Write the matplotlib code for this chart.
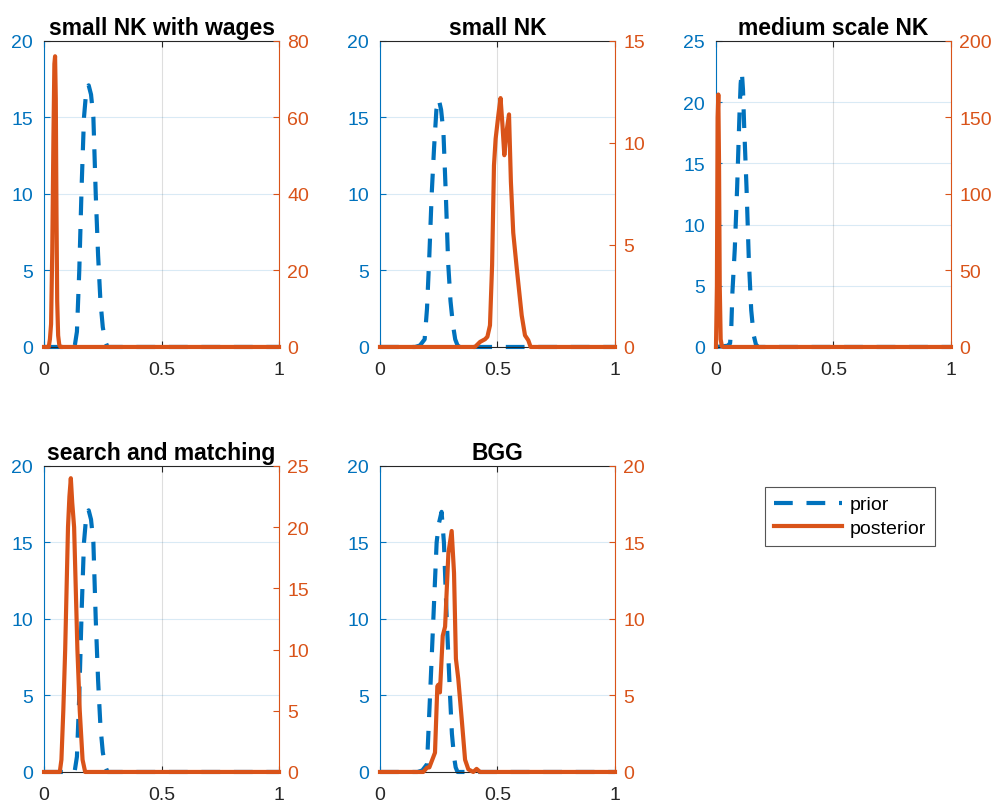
import matplotlib.pyplot as plt

plt.rcParams['font.family'] = ['Liberation Sans', 'DejaVu Sans']

blue = '#0072BD'
orange = '#D95319'
dark = '#262626'

titles = ['small NK with wages', 'small NK', 'medium scale NK',
          'search and matching', 'BGG']

# prior densities (left axis)
prior_x = [
    [0, 0.13, 0.14, 0.15, 0.16, 0.17, 0.18, 0.19, 0.20, 0.21, 0.22, 0.23, 0.24, 0.25, 0.26, 0.27, 1],
    [0, 0.15, 0.17, 0.19, 0.20, 0.21, 0.22, 0.23, 0.24, 0.25, 0.26, 0.27, 0.28, 0.29, 0.30, 0.31, 0.32, 0.33, 0.34, 1],
    [0, 0.05, 0.06, 0.065, 0.07, 0.08, 0.09, 0.10, 0.105, 0.11, 0.115, 0.12, 0.13, 0.14, 0.15, 0.16, 0.17, 0.18, 1],
    [0, 0.13, 0.14, 0.15, 0.16, 0.17, 0.18, 0.19, 0.20, 0.21, 0.22, 0.23, 0.24, 0.25, 0.26, 0.27, 1],
    [0, 0.16, 0.18, 0.20, 0.213, 0.227, 0.241, 0.25, 0.262, 0.272, 0.284, 0.298, 0.306, 0.315, 0.322, 0.33, 1],
]
prior_y = [
    [0, 0, 1, 5, 10.5, 15, 16.8, 17.1, 16.5, 15, 10, 6, 3, 1.3, 0.4, 0, 0],
    [0, 0, 0.1, 0.5, 2.5, 6, 10, 13, 15.5, 16.2, 15.5, 14, 10, 5.5, 3, 1.5, 0.5, 0.1, 0, 0],
    [0, 0.1, 0.3, 1.5, 4.5, 8, 13, 19, 21.5, 22.5, 21, 18, 13, 7, 3, 1, 0.2, 0, 0],
    [0, 0, 1, 5, 10.5, 15, 16.8, 17.1, 16.5, 15, 10, 6, 3, 1.3, 0.4, 0, 0],
    [0, 0, 0.1, 0.5, 5, 10, 15, 16.2, 17, 15, 10, 5, 2.5, 1, 0.3, 0, 0],
]

# posterior densities (right axis)
post_x = [
    [0, 0.02, 0.025, 0.03, 0.035, 0.04, 0.044, 0.047, 0.05, 0.053, 0.056, 0.06, 0.065, 0.07, 1],
    [0, 0.404, 0.426, 0.447, 0.457, 0.468, 0.477, 0.485, 0.492, 0.504, 0.513, 0.521, 0.529,
     0.539, 0.549, 0.557, 0.567, 0.582, 0.603, 0.617, 0.631, 0.641, 1],
    [0, 0.004, 0.007, 0.01, 0.013, 0.016, 0.02, 0.025, 0.03, 1],
    [0, 0.067, 0.074, 0.082, 0.09, 0.102, 0.108, 0.114, 0.12, 0.128, 0.135, 0.142, 0.152, 0.164, 0.175, 1],
    [0, 0.184, 0.20, 0.21, 0.234, 0.244, 0.248, 0.255, 0.267, 0.277, 0.291, 0.305, 0.315,
     0.323, 0.333, 0.348, 0.362, 0.376, 0.397, 0.411, 0.426, 1],
]
post_y = [
    [0, 0, 2, 6, 25, 55, 74, 76, 65, 35, 12, 3, 0.5, 0, 0],
    [0, 0, 0.25, 0.38, 0.5, 1.06, 4.0, 8.9, 10.2, 11.4, 12.2, 10.9, 9.4,
     10.6, 11.4, 8.1, 5.6, 3.85, 1.55, 0.57, 0.33, 0, 0],
    [0, 40, 150, 165, 120, 40, 5, 0.5, 0, 0],
    [0, 0, 1, 5, 10, 20, 22.5, 24, 22, 20, 15, 10, 5, 1, 0, 0],
    [0, 0, 0.28, 0.3, 1.26, 5.6, 5.7, 5.2, 8.9, 9.5, 14.3, 15.75, 13,
     7.4, 6.1, 3.4, 0.8, 0.17, 0, 0.2, 0, 0],
]

left_max = [20, 20, 25, 20, 20]
left_step = [5, 5, 5, 5, 5]
right_max = [80, 15, 200, 25, 20]
right_step = [20, 5, 50, 5, 5]

fig = plt.figure(figsize=(9.94, 8.04), dpi=100)

lefts = [0.0443, 0.3823, 0.7203]
bottoms = [0.5672, 0.0386]
w, h = 0.2364, 0.3806

lines = []
for i in range(5):
    r, c = divmod(i, 3)
    ax = fig.add_axes([lefts[c], bottoms[r], w, h])
    ax2 = ax.twinx()

    l1, = ax.plot(prior_x[i], prior_y[i], color=blue, lw=3, ls='--',
                  dashes=(4.5, 3.3), clip_on=False, label='prior')
    l2, = ax2.plot(post_x[i], post_y[i], color=orange, lw=3,
                   clip_on=False, label='posterior')
    lines = [l1, l2]

    ax.set_xlim(0, 1)
    ax.set_ylim(0, left_max[i])
    ax2.set_ylim(0, right_max[i])
    ax.set_xticks([0, 0.5, 1])
    ax.set_xticklabels(['0', '0.5', '1'])
    ax.set_yticks(range(0, left_max[i] + 1, left_step[i]))
    ax2.set_yticks(range(0, right_max[i] + 1, right_step[i]))

    ax.set_axisbelow(True)
    ax.xaxis.grid(True, color=dark, alpha=0.15, lw=0.8)
    ax.yaxis.grid(True, color=blue, alpha=0.15, lw=0.8)

    ax.tick_params(axis='x', direction='in', colors=dark, labelsize=14, length=4, pad=10, top=True)
    ax.tick_params(axis='y', direction='in', colors=blue, labelsize=14, length=4, pad=8)
    ax2.tick_params(axis='y', direction='in', colors=orange, labelsize=14, length=4, pad=6)

    ax.spines['left'].set_color(blue)
    ax.spines['right'].set_visible(False)
    ax.spines['top'].set_color(dark)
    ax.spines['bottom'].set_color(dark)
    ax2.spines['right'].set_color(orange)
    ax2.spines['left'].set_visible(False)
    ax2.spines['top'].set_visible(False)
    ax2.spines['bottom'].set_visible(False)

    ax.set_title(titles[i], fontsize=16.5, fontweight='bold', pad=5)

leg = fig.legend(lines, ['prior', 'posterior'], loc='upper left',
                 bbox_to_anchor=(765 / 994, 1 - 488 / 804), borderaxespad=0,
                 fontsize=14, handlelength=3.5, fancybox=False,
                 edgecolor='#555555', framealpha=1, borderpad=0.45,
                 labelspacing=0.3, handletextpad=0.4)
leg.get_frame().set_linewidth(0.8)

fig.savefig('out.png', dpi=100)
